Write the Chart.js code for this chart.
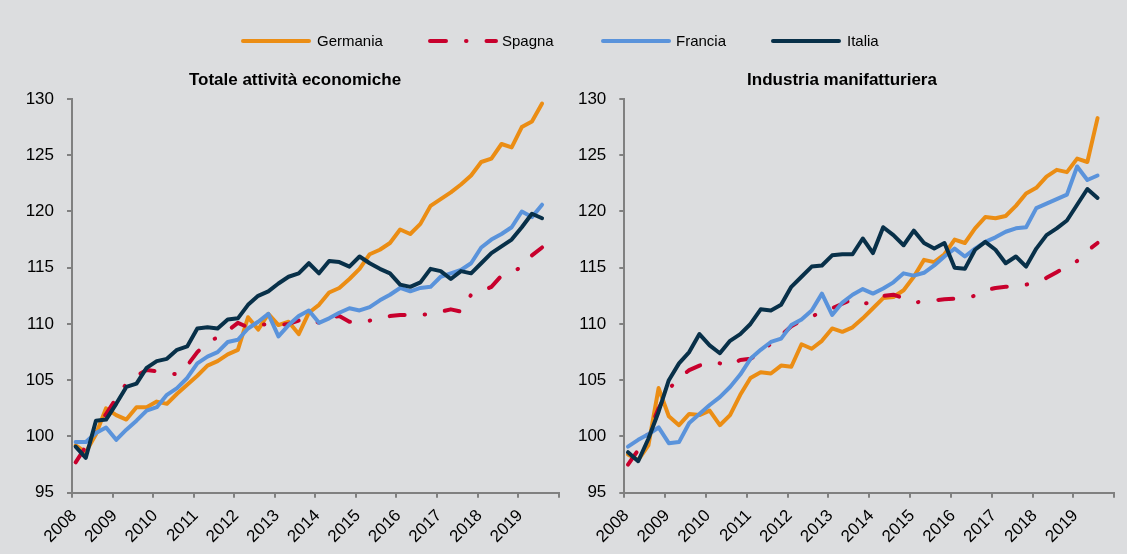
<!DOCTYPE html>
<html><head><meta charset="utf-8">
<script src="https://cdn.jsdelivr.net/npm/chart.js@4.4.1/dist/chart.umd.min.js"></script>
<style>
html,body{margin:0;padding:0;background:#DCDDDF;width:1127px;height:554px;overflow:hidden;font-family:"Liberation Sans",Arial,sans-serif;}
#wrap{position:relative;width:1127px;height:554px;}
canvas{position:absolute;top:0;}
.title{position:absolute;top:70px;height:20px;line-height:20px;font-size:17px;font-weight:bold;color:#000;text-align:center;white-space:nowrap;width:400px;}
.leg{position:absolute;top:31px;height:20px;line-height:20px;font-size:15px;color:#000;white-space:nowrap;}
svg.ls{position:absolute;top:35px;}
</style></head><body>
<div id="wrap">
  <canvas id="c1" width="563" height="554" style="left:0"></canvas>
  <canvas id="c2" width="564" height="554" style="left:563px"></canvas>
  <div class="title" style="left:95px">Totale attività economiche</div>
  <div class="title" style="left:642px">Industria manifatturiera</div>
  <div id="legend"></div>
</div>
<script>
// ---- data ----
const years = [2008,2009,2010,2011,2012,2013,2014,2015,2016,2017,2018,2019];
const quarters = [];
years.forEach(y => [1,2,3,4].forEach(q => quarters.push(y + 'Q' + q)));
quarters.length = 47; // 2008Q1 .. 2019Q3

const seriesNames = ['Germania','Spagna','Francia','Italia'];
const titles = ['Totale attività economiche','Industria manifatturiera'];

const germaniaTot = [99.2,98.6,100.2,102.5,101.9,101.5,102.6,102.6,103.1,102.9,
 103.8,104.6,105.4,106.3,106.7,107.3,107.7,110.6,109.5,110.9,
 109.9,110.2,109.1,111.0,111.7,112.8,113.2,114.0,114.9,116.2,
 116.6,117.2,118.4,118.0,118.9,120.5,121.1,121.7,122.4,123.2,
 124.4,124.7,126.0,125.7,127.5,128.0,129.6];
const spagnaTot = [97.7,99.1,100.6,102.0,103.4,104.7,105.4,105.9,105.8,105.7,
 105.5,106.3,107.5,108.4,108.8,109.4,110.1,109.7,109.9,110.0,
 109.9,110.0,110.3,110.5,110.1,110.6,110.7,110.2,110.1,110.3,
 110.5,110.7,110.8,110.8,110.8,110.9,111.1,111.3,111.1,112.6,
 112.9,113.3,114.3,114.7,115.0,116.1,116.8];
const franciaTot = [99.5,99.5,100.3,100.8,99.7,100.6,101.4,102.3,102.6,103.7,
 104.3,105.2,106.5,107.1,107.5,108.4,108.6,109.6,110.2,110.9,
 108.9,109.9,110.7,111.2,110.1,110.5,111.0,111.4,111.2,111.5,
 112.1,112.6,113.2,112.9,113.2,113.3,114.2,114.5,114.8,115.4,
 116.8,117.5,118.0,118.6,120.0,119.5,120.6];
const italiaTot = [99.1,98.1,101.4,101.5,102.9,104.4,104.7,106.1,106.7,106.9,
 107.7,108.0,109.6,109.7,109.6,110.4,110.5,111.7,112.5,112.9,
 113.6,114.2,114.5,115.4,114.5,115.6,115.5,115.1,116.0,115.4,
 114.9,114.5,113.5,113.3,113.7,114.9,114.7,114.0,114.7,114.5,
 115.4,116.3,116.9,117.5,118.6,119.8,119.4];

const germaniaMan = [98.4,97.9,99.2,104.3,101.8,101.0,102.0,101.9,102.3,101.0,
 101.9,103.7,105.2,105.7,105.6,106.3,106.2,108.2,107.8,108.5,
 109.6,109.3,109.7,110.5,111.4,112.3,112.4,113.0,114.2,115.7,
 115.5,116.2,117.5,117.2,118.5,119.5,119.4,119.6,120.5,121.6,
 122.1,123.1,123.7,123.5,124.7,124.4,128.3];
const spagnaMan = [97.5,98.8,100.3,102.5,104.2,105.2,105.9,106.3,106.6,106.5,
 106.3,106.8,106.9,107.5,108.25,109.0,109.8,110.3,110.7,111.0,
 111.4,111.8,112.2,111.8,111.9,112.5,112.6,112.3,111.9,112.0,
 112.1,112.2,112.25,112.35,112.5,113.0,113.2,113.3,113.4,113.5,
 113.7,114.1,114.6,115.1,115.6,116.5,117.2];
const franciaMan = [99.1,99.7,100.2,100.8,99.4,99.5,101.2,102.0,102.8,103.5,
 104.4,105.5,106.9,107.7,108.4,108.7,109.9,110.4,111.2,112.7,
 110.8,111.9,112.6,113.1,112.7,113.15,113.7,114.5,114.3,114.55,
 115.2,116.0,116.7,116.0,116.7,117.3,117.7,118.2,118.5,118.6,
 120.3,120.7,121.1,121.5,124.0,122.8,123.2];
const italiaMan = [98.6,97.8,99.8,102.2,105.0,106.5,107.5,109.1,108.1,107.4,
 108.5,109.1,110.0,111.3,111.2,111.7,113.3,114.2,115.1,115.2,
 116.1,116.2,116.2,117.6,116.3,118.6,117.9,117.0,118.3,117.2,
 116.7,117.2,115.0,114.9,116.6,117.3,116.6,115.4,116.0,115.1,
 116.7,117.9,118.5,119.2,120.6,122.0,121.2];

// ---- styles ----
const colors = {Germania:'#EB8D14', Spagna:'#C8002D', Francia:'#5A93DB', Italia:'#083049'};
const dashes = {Germania:[], Spagna:[15,20,0.5,20], Francia:[], Italia:[]};
const orders = {Germania:4, Spagna:3, Francia:2, Italia:1};
const FONT = '"Liberation Sans", Arial, sans-serif';

// quarter label -> position on the year axis (centre-ish of the quarter)
function qPos(label){ const y = +label.slice(0,4), q = +label.slice(5); return y + (q-1)/4 + 0.09; }

function makeChart(id, seriesArr, yAxisWidth, padRight){
  const datasets = seriesNames.map((name, k) => ({
    label: name,
    data: seriesArr[k].map((v,i) => ({x: qPos(quarters[i]), y: v})),
    borderColor: colors[name],
    backgroundColor: colors[name],
    borderWidth: 4,
    borderDash: dashes[name],
    borderCapStyle: 'round',
    borderJoinStyle: 'round',
    pointRadius: 0,
    tension: 0,
    fill: false,
    order: orders[name]
  }));
  return new Chart(document.getElementById(id), {
    type: 'line',
    data: {datasets},
    options: {
      responsive: false,
      animation: false,
      devicePixelRatio: 1,
      layout: {padding: {top: 99, right: padRight, left: 0, bottom: 0}},
      plugins: {legend: {display: false}, tooltip: {enabled: false}, title: {display: false}},
      scales: {
        x: {
          type: 'linear', min: 2008, max: 2020,
          afterBuildTicks: s => { s.ticks = years.concat([2020]).map(v => ({value: v})); },
          ticks: {
            autoSkip: false, minRotation: 45, maxRotation: 45,
            padding: 8, labelOffset: 2, color: '#000',
            font: {family: FONT, size: 17},
            callback: v => years.includes(v) ? String(v) : ''
          },
          grid: {drawOnChartArea: false, drawTicks: true, tickLength: 5, color: '#808080', lineWidth: 2},
          border: {display: true, color: '#808080', width: 2},
          afterFit: s => { s.height = 554 - 492.7; s.paddingLeft = 0; s.paddingRight = 0; }
        },
        y: {
          min: 95, max: 130,
          ticks: {stepSize: 5, padding: 13, color: '#000', font: {family: FONT, size: 17}},
          grid: {drawOnChartArea: false, drawTicks: true, tickLength: 5, color: '#808080', lineWidth: 2},
          border: {display: true, color: '#808080', width: 2},
          afterFit: s => { s.width = yAxisWidth; s.paddingTop = 0; s.paddingBottom = 0; }
        }
      }
    }
  });
}

makeChart('c1', [germaniaTot, spagnaTot, franciaTot, italiaTot], 72, 4.3);
makeChart('c2', [germaniaMan, spagnaMan, franciaMan, italiaMan], 61.3, 12.7);

// ---- legend (HTML text) ----
const legendPos = {Germania:[241,317], Spagna:[428,502], Francia:[601,676], Italia:[771,847]};
const lg = document.getElementById('legend');
seriesNames.forEach(name => {
  const [lx, tx] = legendPos[name];
  const da = dashes[name].length ? ' stroke-dasharray="16 20 0.5 20"' : '';
  const svg = document.createElementNS('http://www.w3.org/2000/svg','svg');
  svg.setAttribute('class','ls'); svg.setAttribute('width', 74); svg.setAttribute('height', 12);
  svg.style.left = (lx - 2) + 'px';
  svg.innerHTML = '<line x1="4" y1="6" x2="70" y2="6" stroke="' + colors[name] + '" stroke-width="4" stroke-linecap="round"' + da + '/>';
  lg.appendChild(svg);
  const t = document.createElement('div');
  t.className = 'leg'; t.style.left = tx + 'px'; t.textContent = name;
  lg.appendChild(t);
});
</script>
</body></html>
